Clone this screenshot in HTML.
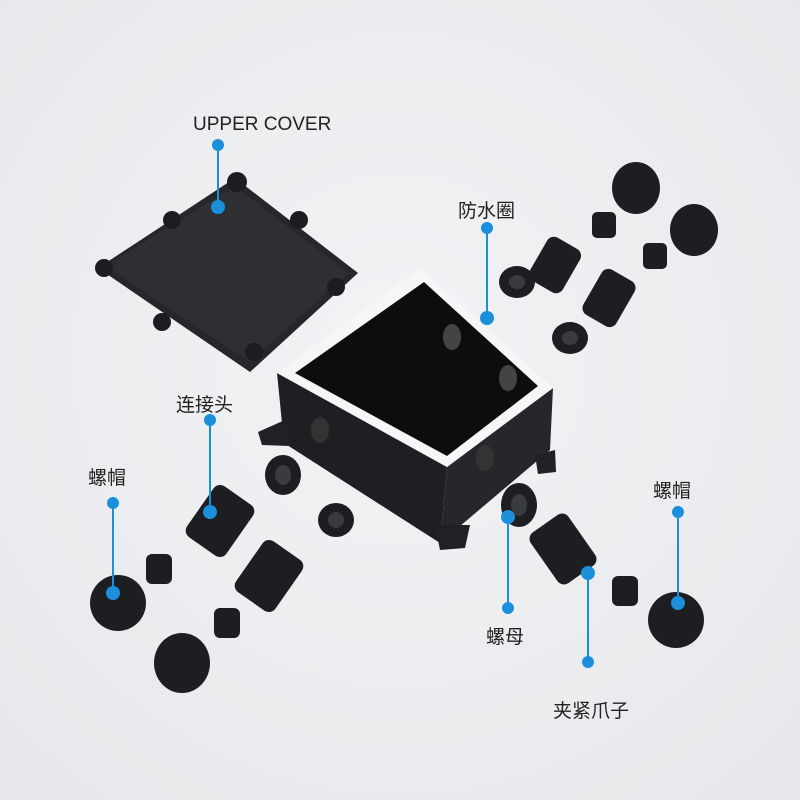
<!DOCTYPE html>
<html><head><meta charset="utf-8"><style>
html,body{margin:0;padding:0}
body{width:800px;height:800px;background:#eceef1;overflow:hidden;position:relative;font-family:"Liberation Sans","Noto Sans CJK SC",sans-serif}
.t{position:absolute;color:#222;font-size:19px;white-space:nowrap}
</style></head><body>
<svg width="800" height="800" style="position:absolute;left:0;top:0">
<defs>
<radialGradient id="bg" cx="50%" cy="45%" r="70%"><stop offset="0" stop-color="#f2f3f5"/><stop offset="1" stop-color="#e6e8eb"/></radialGradient>
</defs>
<rect width="800" height="800" fill="url(#bg)"/>
<!-- cover -->
<polygon points="98,268 235,178 358,273 250,372" fill="#26272a"/>
<polygon points="106,266 235,186 348,273 250,362" fill="#2e2f33"/>
<g fill="#1c1d20"><circle cx="237" cy="182" r="10"/><circle cx="172" cy="220" r="9"/><circle cx="299" cy="220" r="9"/><circle cx="104" cy="268" r="9"/><circle cx="336" cy="287" r="9"/><circle cx="162" cy="322" r="9"/><circle cx="254" cy="352" r="9"/></g>
<!-- box body -->
<polygon points="277,373 447,467 440,543 284,443" fill="#1e1f22"/>
<polygon points="447,467 553,388 550,450 440,543" fill="#26272a"/>
<polygon points="258,432 285,420 290,446 262,445" fill="#202124"/>
<polygon points="435,525 470,525 465,548 440,550" fill="#202124"/>
<polygon points="535,455 555,450 556,472 538,474" fill="#202124"/>
<!-- rim -->
<polygon points="277,373 420,268 553,388 447,467" fill="#f4f6f8"/>
<polygon points="295,373 424,282 538,386 447,456" fill="#0d0d0f"/>
<ellipse cx="452" cy="337" rx="9" ry="13" fill="#444"/>
<ellipse cx="508" cy="378" rx="9" ry="13" fill="#444"/>
<ellipse cx="320" cy="430" rx="9" ry="13" fill="#333"/>
<ellipse cx="485" cy="458" rx="9" ry="13" fill="#333"/>
<!-- parts right top -->
<g fill="#1d1e21">
<ellipse cx="636" cy="188" rx="24" ry="26"/>
<ellipse cx="694" cy="230" rx="24" ry="26"/>
<rect x="592" y="212" width="24" height="26" rx="5"/>
<rect x="643" y="243" width="24" height="26" rx="5"/>
<rect x="536" y="240" width="38" height="50" rx="8" transform="rotate(30 555 265)"/>
<rect x="590" y="272" width="38" height="52" rx="8" transform="rotate(30 609 298)"/>
<ellipse cx="517" cy="282" rx="18" ry="16"/>
<ellipse cx="570" cy="338" rx="18" ry="16"/>
</g>
<!-- left parts -->
<g fill="#1d1e21">
<ellipse cx="283" cy="475" rx="18" ry="20"/>
<ellipse cx="336" cy="520" rx="18" ry="17"/>
<rect x="196" y="490" width="48" height="62" rx="8" transform="rotate(35 220 521)"/>
<rect x="245" y="545" width="48" height="62" rx="8" transform="rotate(35 269 576)"/>
<rect x="146" y="554" width="26" height="30" rx="6"/>
<rect x="214" y="608" width="26" height="30" rx="6"/>
<ellipse cx="118" cy="603" rx="28" ry="28"/>
<ellipse cx="182" cy="663" rx="28" ry="30"/>
<ellipse cx="519" cy="505" rx="18" ry="22"/>
<rect x="540" y="518" width="46" height="62" rx="8" transform="rotate(-35 563 549)"/>
<rect x="612" y="576" width="26" height="30" rx="6"/>
<ellipse cx="676" cy="620" rx="28" ry="28"/>
</g>
<g fill="#3a3b3f">
<ellipse cx="283" cy="475" rx="8" ry="10"/>
<ellipse cx="336" cy="520" rx="8" ry="8"/>
<ellipse cx="517" cy="282" rx="8" ry="7"/>
<ellipse cx="570" cy="338" rx="8" ry="7"/>
<ellipse cx="519" cy="505" rx="8" ry="11"/>
</g>
<!-- connectors -->
<g stroke="#1b8fdc" stroke-width="2" fill="#1b8fdc">
<line x1="218" y1="145" x2="218" y2="207"/><circle cx="218" cy="145" r="5"/><circle cx="218" cy="207" r="6"/>
<line x1="487" y1="228" x2="487" y2="318"/><circle cx="487" cy="228" r="5"/><circle cx="487" cy="318" r="6"/>
<line x1="210" y1="420" x2="210" y2="512"/><circle cx="210" cy="420" r="5"/><circle cx="210" cy="512" r="6"/>
<line x1="113" y1="503" x2="113" y2="593"/><circle cx="113" cy="503" r="5"/><circle cx="113" cy="593" r="6"/>
<line x1="678" y1="512" x2="678" y2="603"/><circle cx="678" cy="512" r="5"/><circle cx="678" cy="603" r="6"/>
<line x1="508" y1="608" x2="508" y2="517"/><circle cx="508" cy="608" r="5"/><circle cx="508" cy="517" r="6"/>
<line x1="588" y1="662" x2="588" y2="573"/><circle cx="588" cy="662" r="5"/><circle cx="588" cy="573" r="6"/>
</g>
</svg>
<div class="t" style="left:193px;top:114px">UPPER COVER</div>
<div class="t" style="left:458px;top:196px">防水圈</div>
<div class="t" style="left:176px;top:390px">连接头</div>
<div class="t" style="left:88px;top:463px">螺帽</div>
<div class="t" style="left:653px;top:476px">螺帽</div>
<div class="t" style="left:486px;top:622px">螺母</div>
<div class="t" style="left:553px;top:696px">夹紧爪子</div>
</body></html>
